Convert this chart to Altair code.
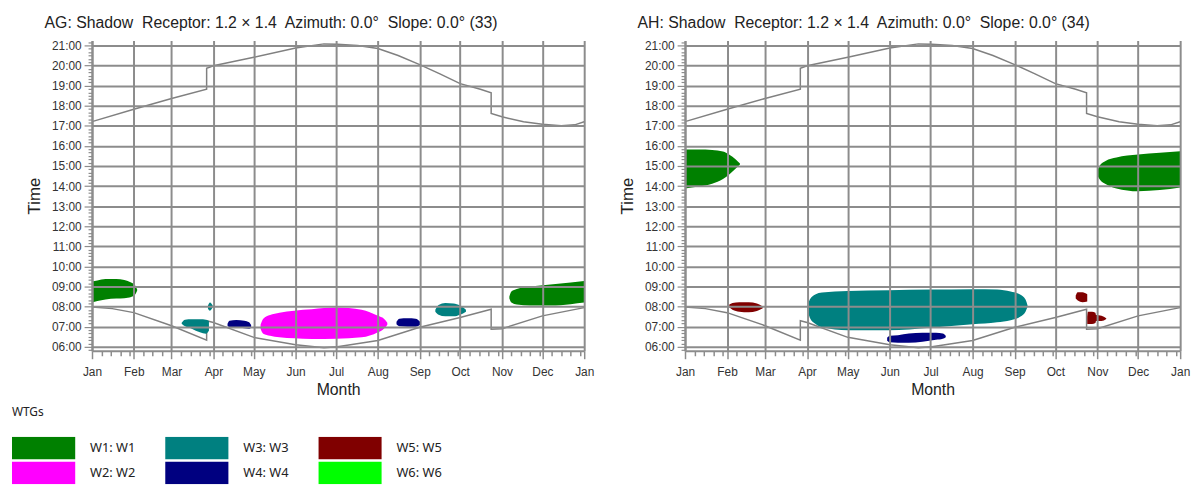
import altair as alt
import pandas as pd

# ---------------- data (day of year, 0 = 1 Jan; times in decimal hours) -------------
SUNSET_DAY = [0, 31, 59, 85, 85.01, 90, 120, 151, 172, 182, 197, 212, 227, 243, 258, 273, 288, 296, 296.01, 304, 320, 334, 348, 358, 365]
SUNSET_T = [17.21, 17.83, 18.36, 18.82, 19.87, 19.99, 20.41, 20.87, 21.08, 21.06, 21.0, 20.85, 20.5, 20.05, 19.59, 19.1, 18.82, 18.65, 17.62, 17.45, 17.2, 17.08, 17.0, 17.05, 17.2]
SUNRISE_DAY = [0, 15, 31, 59, 85, 85.01, 90, 120, 151, 172, 182, 212, 243, 273, 296, 296.01, 304, 334, 365]
SUNRISE_T = [7.98, 7.9, 7.7, 7.05, 6.33, 7.3, 7.21, 6.47, 6.1, 5.95, 6.0, 6.31, 6.97, 7.46, 7.87, 6.88, 6.9, 7.54, 7.95]

# Receptor AG
AG_W1_JAN = {"day": [0, 4, 10, 18, 24, 29, 32, 33.5], "top": [9.25, 9.3, 9.37, 9.38, 9.33, 9.2, 9.05, 8.85], "bot": [8.2, 8.28, 8.36, 8.4, 8.42, 8.48, 8.6, 8.8]}
AG_W1_DEC = {"day": [309.5, 311, 315, 325, 340, 355, 365], "top": [8.5, 8.75, 8.88, 9.0, 9.1, 9.2, 9.28], "bot": [8.4, 8.2, 8.1, 8.05, 8.05, 8.12, 8.2]}
AG_W3_MAR = {"day": [66.5, 69, 74, 80, 84.5, 86.7], "top": [7.2, 7.35, 7.37, 7.37, 7.35, 7.28], "bot": [7.15, 7.02, 6.9, 6.72, 6.65, 6.8]}
AG_W3_DOT = {"day": [86, 87.5, 89.5], "top": [8.05, 8.2, 8.05], "bot": [7.9, 7.8, 7.95]}
AG_W4_APR = {"day": [100.5, 102, 107, 113, 116.5, 118], "top": [7.15, 7.3, 7.33, 7.3, 7.22, 7.08], "bot": [7.05, 6.98, 6.98, 6.92, 6.9, 6.95]}
AG_W2_SUM = {"day": [125, 127, 132, 139, 150, 163, 181, 200, 212, 216.5, 219], "top": [7.1, 7.4, 7.58, 7.7, 7.8, 7.87, 7.95, 7.85, 7.55, 7.4, 7.2], "bot": [6.9, 6.65, 6.55, 6.47, 6.42, 6.39, 6.4, 6.47, 6.72, 6.9, 7.1]}
AG_W4_AUG = {"day": [225.8, 228, 234, 240, 243.3], "top": [7.25, 7.4, 7.42, 7.4, 7.25], "bot": [7.12, 7.02, 7.0, 7.0, 7.1]}
AG_W3_SEP = {"day": [254.6, 257, 262, 268, 273, 277.3], "top": [7.85, 8.08, 8.18, 8.15, 8.05, 7.85], "bot": [7.75, 7.6, 7.52, 7.52, 7.6, 7.75]}

# Receptor AH
AH_W1_JAN = {"day": [0, 10, 20, 28, 33, 37, 40.5], "top": [15.82, 15.82, 15.8, 15.72, 15.55, 15.35, 15.12], "bot": [13.88, 13.98, 14.12, 14.35, 14.6, 14.85, 15.08]}
AH_W1_DEC = {"day": [303.8, 306, 310, 318, 334, 350, 365], "top": [14.75, 15.05, 15.25, 15.42, 15.57, 15.66, 15.74], "bot": [14.55, 14.3, 14.1, 13.88, 13.74, 13.8, 13.93]}
AH_W5_FEB = {"day": [32.6, 35, 40, 47, 53, 57.3], "top": [8.1, 8.18, 8.22, 8.22, 8.15, 8.0], "bot": [7.95, 7.85, 7.75, 7.72, 7.78, 7.92]}
AH_W3_SUM = {"day": [90, 92, 96, 101, 120, 150, 181, 212, 230, 240, 247, 251, 252.5], "top": [7.95, 8.35, 8.6, 8.7, 8.78, 8.82, 8.85, 8.87, 8.85, 8.75, 8.6, 8.35, 8.05], "bot": [7.95, 7.45, 7.15, 6.97, 6.82, 6.82, 6.95, 7.12, 7.22, 7.32, 7.5, 7.75, 8.0]}
AH_W4_JUN = {"day": [149, 151, 157, 165, 175, 185, 190, 192.2], "top": [6.45, 6.55, 6.58, 6.66, 6.7, 6.7, 6.66, 6.55], "bot": [6.3, 6.22, 6.2, 6.2, 6.25, 6.35, 6.4, 6.48]}
AH_W5_OCT = {"day": [288, 289.5, 293, 296.5], "top": [8.55, 8.72, 8.72, 8.62], "bot": [8.4, 8.3, 8.22, 8.25]}
AH_W5_NOV = {"day": [296.5, 297, 300, 302.5, 303, 307, 310.5], "top": [7.5, 7.75, 7.75, 7.7, 7.58, 7.55, 7.42], "bot": [7.15, 7.13, 7.13, 7.18, 7.28, 7.28, 7.38]}

WTG_ORDER = ["W1: W1", "W2: W2", "W3: W3", "W4: W4", "W5: W5", "W6: W6"]
WTG_COLORS = ["#008000", "#ff00ff", "#008080", "#000080", "#800000", "#00ff00"]

AG_BLOBS = [("W1: W1", AG_W1_JAN), ("W1: W1", AG_W1_DEC), ("W3: W3", AG_W3_MAR), ("W3: W3", AG_W3_DOT),
            ("W4: W4", AG_W4_APR), ("W2: W2", AG_W2_SUM), ("W4: W4", AG_W4_AUG), ("W3: W3", AG_W3_SEP)]
AH_BLOBS = [("W1: W1", AH_W1_JAN), ("W1: W1", AH_W1_DEC), ("W5: W5", AH_W5_FEB), ("W3: W3", AH_W3_SUM),
            ("W4: W4", AH_W4_JUN), ("W5: W5", AH_W5_OCT), ("W5: W5", AH_W5_NOV)]

TITLE_AG = "AG: Shadow\u00a0 Receptor: 1.2 \u00d7 1.4\u00a0 Azimuth: 0.0\u00b0\u00a0 Slope: 0.0\u00b0 (33)"
TITLE_AH = "AH: Shadow\u00a0 Receptor: 1.2 \u00d7 1.4\u00a0 Azimuth: 0.0\u00b0\u00a0 Slope: 0.0\u00b0 (34)"

# ---------------- helpers -------------
BASE = pd.Timestamp("2023-01-01")


def to_dates(days):
    return [(BASE + pd.to_timedelta(d, unit="D")).strftime("%Y-%m-%dT%H:%M:%S") for d in days]


def blob_frame(blobs):
    rows = []
    for i, (wtg, b) in enumerate(blobs):
        for d, t, bt in zip(to_dates(b["day"]), b["top"], b["bot"]):
            rows.append({"date": d, "top": t, "bot": bt, "wtg": wtg, "blob": i})
    return pd.DataFrame(rows)


sun_df = pd.concat([
    pd.DataFrame({"date": to_dates(SUNSET_DAY), "t": SUNSET_T, "kind": "sunset"}),
    pd.DataFrame({"date": to_dates(SUNRISE_DAY), "t": SUNRISE_T, "kind": "sunrise"}),
])

GRID = "#8c8c8c"
AXIS_FONT = "Liberation Sans"
Y_TICKS = [round(5 + 50 / 60 + i / 6, 4) for i in range(0, 93)]
IS_HOUR = "abs(datum.value - round(datum.value)) < 0.001"
IS_MONTH = "date(datum.value) === 1"

x_axis = alt.Axis(
    tickCount=alt.TimeIntervalStep(interval="day", step=7),
    labelExpr=f"{IS_MONTH} ? timeFormat(datum.value, '%b') : ''",
    labelFlush=False, labelOverlap=False, labelBound=False,
    grid=True, gridColor=GRID, gridWidth=2,
    gridOpacity={"condition": {"test": IS_MONTH, "value": 1}, "value": 0},
    tickSize={"condition": {"test": IS_MONTH, "value": 8}, "value": 5},
    tickColor=GRID, tickWidth=1.5, domainColor=GRID, domainWidth=2,
    labelFont=AXIS_FONT, labelFontSize=12, labelColor="#333333", labelPadding=8,
    titleFont=AXIS_FONT, titleFontSize=16, titleFontWeight="normal", titleColor="#222222", titlePadding=4,
    zindex=1,
)
y_axis = alt.Axis(
    values=Y_TICKS,
    labelExpr=f"{IS_HOUR} ? ((round(datum.value) < 10 ? '0' : '') + round(datum.value) + ':00') : ''",
    labelOverlap=False, labelBound=False, labelFlush=False,
    grid=True, gridColor=GRID, gridWidth=2,
    gridOpacity={"condition": {"test": IS_HOUR, "value": 1}, "value": 0},
    tickSize={"condition": {"test": IS_HOUR, "value": 8}, "value": 4},
    tickColor=GRID, tickWidth=1.2, domainColor=GRID, domainWidth=2,
    labelFont=AXIS_FONT, labelFontSize=12, labelColor="#333333", labelPadding=3,
    titleFont=AXIS_FONT, titleFontSize=17, titleFontWeight="normal", titleColor="#222222", titlePadding=8,
    zindex=1,
)

x_scale = alt.Scale(domain=[alt.DateTime(year=2023, month=1, date=1), alt.DateTime(year=2024, month=1, date=1)], nice=False)
y_scale = alt.Scale(domain=[5.8, 21.25], nice=False, zero=False)

legend = alt.Legend(
    title="WTGs", orient="none", legendX=-81, legendY=371, columns=3,
    symbolType="M-1,-0.36L1,-0.36L1,0.36L-1,0.36Z", symbolSize=4096, symbolStrokeWidth=0,
    symbolOpacity=1, clipHeight=23, labelOffset=15, columnPadding=30, rowPadding=2,
    labelFont="Noto Sans", labelFontSize=13, labelColor="#222222",
    titleFont="Noto Sans", titleFontSize=12, titleFontWeight="normal", titleColor="#222222", titlePadding=18,
)


def panel(title, blobs, width):
    sun = alt.Chart(sun_df).mark_line(color="#808080", strokeWidth=1.5).encode(
        x=alt.X("date:T", scale=x_scale, axis=x_axis, title="Month"),
        y=alt.Y("t:Q", scale=y_scale, axis=y_axis, title="Time"),
        detail="kind:N",
    )
    areas = alt.Chart(blob_frame(blobs)).mark_area(interpolate="monotone", opacity=1).encode(
        x=alt.X("date:T", scale=x_scale, axis=x_axis, title="Month"),
        y=alt.Y("top:Q", scale=y_scale, axis=y_axis, title="Time"),
        y2="bot:Q",
        color=alt.Color("wtg:N", scale=alt.Scale(domain=WTG_ORDER, range=WTG_COLORS), legend=legend),
        detail="blob:N",
    )
    return alt.layer(sun, areas).properties(
        width=width, height=314,
        title=alt.TitleParams(title, anchor="start", frame="group", dx=-48, fontSize=16,
                              font=AXIS_FONT, fontWeight="normal", color="#222222", offset=5),
    )


chart = alt.hconcat(panel(TITLE_AG, AG_BLOBS, 498), panel(TITLE_AH, AH_BLOBS, 501), spacing=24).properties(
    padding={"left": 4, "top": 4, "right": 5, "bottom": 5},
    background="white",
).configure_view(stroke=None)

chart.save("out.html", embed_options={"renderer": "svg", "actions": False})
